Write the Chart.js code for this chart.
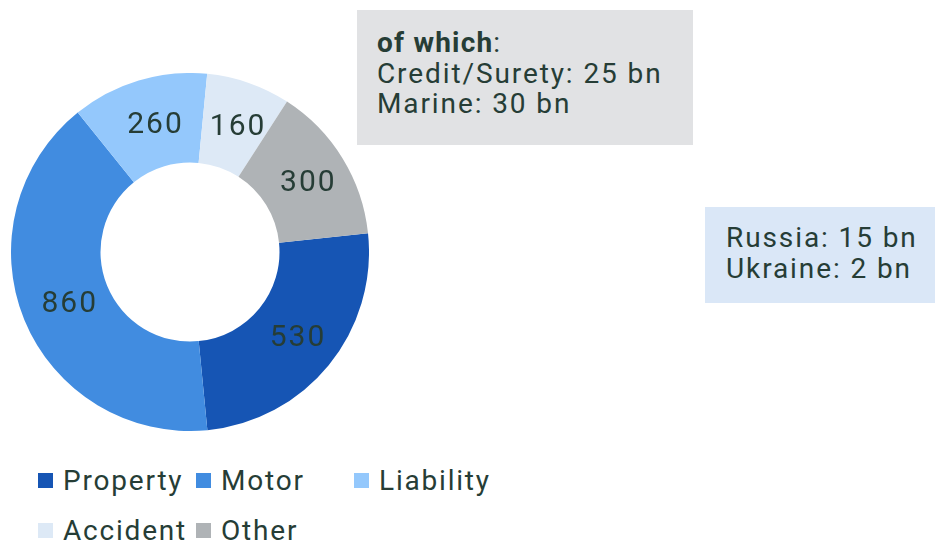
<!DOCTYPE html>
<html>
<head>
<meta charset="utf-8">
<script src="https://cdn.jsdelivr.net/npm/chart.js@4.4.1/dist/chart.umd.min.js"></script>
<style>
  html, body { margin: 0; padding: 0; background: #fff; }
  body { width: 935px; height: 545px; position: relative; overflow: hidden;
         font-family: Roboto, "Liberation Sans", sans-serif; color: #263d36; }
  #wrap { position: absolute; left: 11px; top: 73px; width: 358px; height: 358px; }
  .note { position: absolute; font-size: 28px; line-height: 30.5px; letter-spacing: 1.9px; white-space: nowrap; }
  #note1 { left: 357px; top: 10px; width: 316px; height: 117px; padding: 18px 0 0 20px; background: #e1e2e4; }
  #note1 b { letter-spacing: 1.2px; }
  #note2 { left: 705px; top: 207px; width: 209px; height: 80px; padding: 16px 0 0 21px; background: #dae7f7; }
  #legend { position: absolute; left: 38px; top: 466px; display: grid;
            grid-template-columns: 158px 158px 158px; row-gap: 20px;
            font-size: 28px; line-height: 30px; letter-spacing: 1.8px; }
  #legend .item { white-space: nowrap; }
  #legend .box { display: inline-block; width: 15px; height: 15px; margin-right: 10px; vertical-align: 2px; }
</style>
</head>
<body>
<div id="wrap"><canvas id="lossChart"></canvas></div>
<div class="note" id="note1"><b>of which</b>:<br>Credit/Surety: 25 bn<br>Marine: 30 bn</div>
<div class="note" id="note2">Russia: 15 bn<br>Ukraine: 2 bn</div>
<div id="legend"></div>
<script>
const categories = ['Property', 'Motor', 'Liability', 'Accident', 'Other'];
const values = [530, 860, 260, 160, 300];
const colors = ['#1655b4', '#418ce0', '#94c8fc', '#dde9f6', '#afb3b6'];

// draws the value in the middle of each slice
const sliceLabels = {
    id: 'sliceLabels',
    afterDatasetsDraw(chart) {
        const ctx = chart.ctx;
        const meta = chart.getDatasetMeta(0);
        ctx.save();
        ctx.font = '30px Roboto, "Liberation Sans", sans-serif';
        ctx.letterSpacing = '2px';
        ctx.fillStyle = '#263d36';
        ctx.textAlign = 'center';
        ctx.textBaseline = 'middle';
        meta.data.forEach((arc, i) => {
            const p = arc.tooltipPosition();
            ctx.fillText(String(values[i]), p.x + 4, p.y + 2);
        });
        ctx.restore();
    }
};

const ctx = document.getElementById('lossChart');
new Chart(ctx, {
    type: 'doughnut',
    data: {
        labels: categories,
        datasets: [{
            data: values,
            backgroundColor: colors,
            borderWidth: 0,
            hoverOffset: 0
        }]
    },
    options: {
        responsive: true,
        maintainAspectRatio: false,
        animation: false,
        cutout: '50%',
        rotation: 84,
        plugins: {
            legend: { display: false },
            tooltip: { enabled: false }
        }
    },
    plugins: [sliceLabels]
});

const legend = document.getElementById('legend');
categories.forEach((name, i) => {
    const item = document.createElement('div');
    item.className = 'item';
    item.innerHTML = '<span class="box" style="background:' + colors[i] + '"></span>' + name;
    legend.appendChild(item);
});
</script>
</body>
</html>
